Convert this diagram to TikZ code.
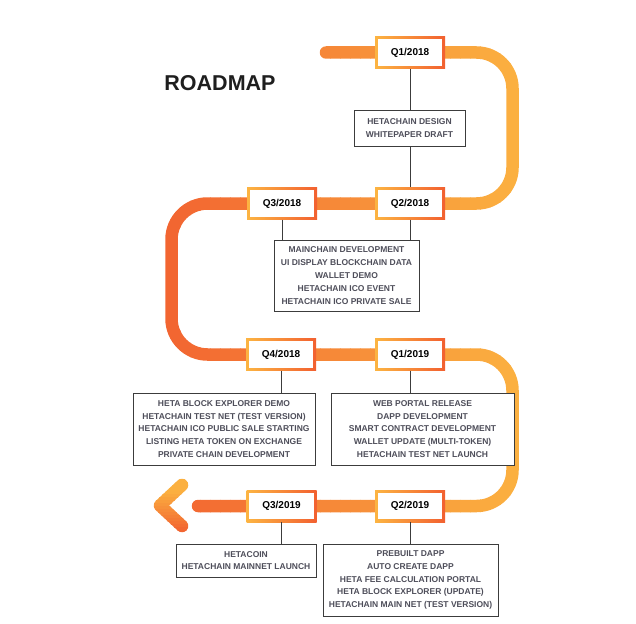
\documentclass[tikz,border=0pt]{standalone}
\usepackage{fontspec}
\setmainfont{Liberation Sans}
\usetikzlibrary{backgrounds}
\definecolor{tR}{RGB}{242,101,49}
\definecolor{tY}{RGB}{251,176,64}
\definecolor{qL}{RGB}{252,180,66}
\definecolor{qR}{RGB}{242,96,48}
\definecolor{txtg}{RGB}{78,78,90}
\definecolor{lineg}{RGB}{60,60,60}
\definecolor{titlec}{RGB}{30,30,30}
\tikzset{
  qbox/.style={minimum width=70pt, minimum height=32pt, inner sep=0pt,
    left color=qL, right color=qR, draw=none,
    font=\bfseries\fontsize{10}{12}\selectfont, text=black,
    path picture={\fill[white] ([shift={(2.6pt,2.6pt)}]path picture bounding box.south west)
      rectangle ([shift={(-2.6pt,-2.6pt)}]path picture bounding box.north east);}},
  dbox/.style={draw=lineg, line width=1pt, fill=white, align=center, inner sep=2pt,
    font=\bfseries\fontsize{8.5}{12.8}\selectfont, text=txtg},
  conn/.style={draw=lineg, line width=1pt},
  trackline/.style={line width=12.5pt, rounded corners=36pt, line cap=round},
}
\begin{document}
\begin{tikzpicture}[x=1pt,y=-1pt]
\useasboundingbox (0,0) rectangle (636,623);

\node[font=\bfseries\fontsize{21.5}{24}\selectfont, text=titlec] (title) at (220,83) {ROADMAP};

% quarter boxes
\node[qbox] (qa) at (410,52.5) {Q1/2018};
\node[qbox] (qb) at (410,203.5) {Q2/2018};
\node[qbox] (qc) at (282,203.5) {Q3/2018};
\node[qbox] (qd) at (281,354.5) {Q4/2018};
\node[qbox] (qe) at (410,354.5) {Q1/2019};
\node[qbox] (qf) at (410,506) {Q2/2019};
\node[qbox] (qg) at (281.5,506) {Q3/2019};

% detail boxes
\node[dbox, minimum width=111pt, minimum height=36pt] (da) at (409.5,128) {HETACHAIN DESIGN\\WHITEPAPER DRAFT};
\node[dbox, minimum width=145pt, minimum height=71pt] (db) at (346.5,275.5) {MAINCHAIN DEVELOPMENT\\UI DISPLAY BLOCKCHAIN DATA\\WALLET DEMO\\HETACHAIN ICO EVENT\\HETACHAIN ICO PRIVATE SALE};
\node[dbox, minimum width=182pt, minimum height=72pt] (dc) at (224,429) {HETA BLOCK EXPLORER DEMO\\HETACHAIN TEST NET (TEST VERSION)\\HETACHAIN ICO PUBLIC SALE STARTING\\LISTING HETA TOKEN ON EXCHANGE\\PRIVATE CHAIN DEVELOPMENT};
\node[dbox, minimum width=183pt, minimum height=72pt] (dd) at (422.5,429) {WEB PORTAL RELEASE\\DAPP DEVELOPMENT\\SMART CONTRACT DEVELOPMENT\\WALLET UPDATE (MULTI-TOKEN)\\HETACHAIN TEST NET LAUNCH};
\node[dbox, minimum width=140pt, minimum height=33pt] (de) at (246,560.5) {HETACOIN\\HETACHAIN MAINNET LAUNCH};
\node[dbox, minimum width=175pt, minimum height=72pt] (df) at (410.5,580) {PREBUILT DAPP\\AUTO CREATE DAPP\\HETA FEE CALCULATION PORTAL\\HETA BLOCK EXPLORER (UPDATE)\\HETACHAIN MAIN NET (TEST VERSION)};

% connectors
\draw[conn] (qa.south) -- (qa.south |- da.north);
\draw[conn] (qb.north |- da.south) -- (qb.north);
\draw[conn] (qc.south) -- (qc.south |- db.north);
\draw[conn] (qb.south) -- (qb.south |- db.north);
\draw[conn] (qd.south) -- (qd.south |- dc.north);
\draw[conn] (qe.south) -- (qe.south |- dd.north);
\draw[conn] (qg.south) -- (qg.south |- de.north);
\draw[conn] (qf.south) -- (qf.south |- df.north);

% track with horizontal gradient (sliced)
\begin{scope}[on background layer]
\coordinate (t0) at (326,52.5);
\coordinate (t1) at (512.5,52.5);
\coordinate (t2) at (512.5,203.5);
\coordinate (t3) at (171.5,203.5);
\coordinate (t4) at (171.5,354.5);
\coordinate (t5) at (512.5,354.5);
\coordinate (t6) at (512.5,506);
\coordinate (t7) at (198,506);
\foreach \i in {0,...,37}{
  \pgfmathsetmacro{\xa}{160+\i*10}
  \pgfmathsetmacro{\xb}{\xa+10.6}
  \pgfmathsetmacro{\fr}{min(100,max(0,(\xa+5-171.5)/(512.5-171.5)*100))}
  \colorlet{slc}{tY!\fr!tR}
  \begin{scope}
    \clip (\xa,25) rectangle (\xb,530);
    \draw[trackline, draw=slc] (t0) -- (t1) -- (t2) -- (t3) -- (t4) -- (t5) -- (t6) -- (t7);
  \end{scope}
}
% chevron with vertical gradient
\coordinate (c0) at (182,485);
\coordinate (c1) at (160,505.5);
\coordinate (c2) at (182,526);
\foreach \j in {0,...,23}{
  \pgfmathsetmacro{\ya}{476+\j*3}
  \pgfmathsetmacro{\yb}{\ya+3.4}
  \pgfmathsetmacro{\fr}{min(100,max(0,(\ya+1.5-492)/(530-492)*100))}
  \colorlet{slc}{tR!\fr!tY}
  \begin{scope}
    \clip (140,\ya) rectangle (200,\yb);
    \draw[line width=12.5pt, line cap=round, line join=round, draw=slc] (c0) -- (c1) -- (c2);
  \end{scope}
}
\end{scope}
\end{tikzpicture}
\end{document}
